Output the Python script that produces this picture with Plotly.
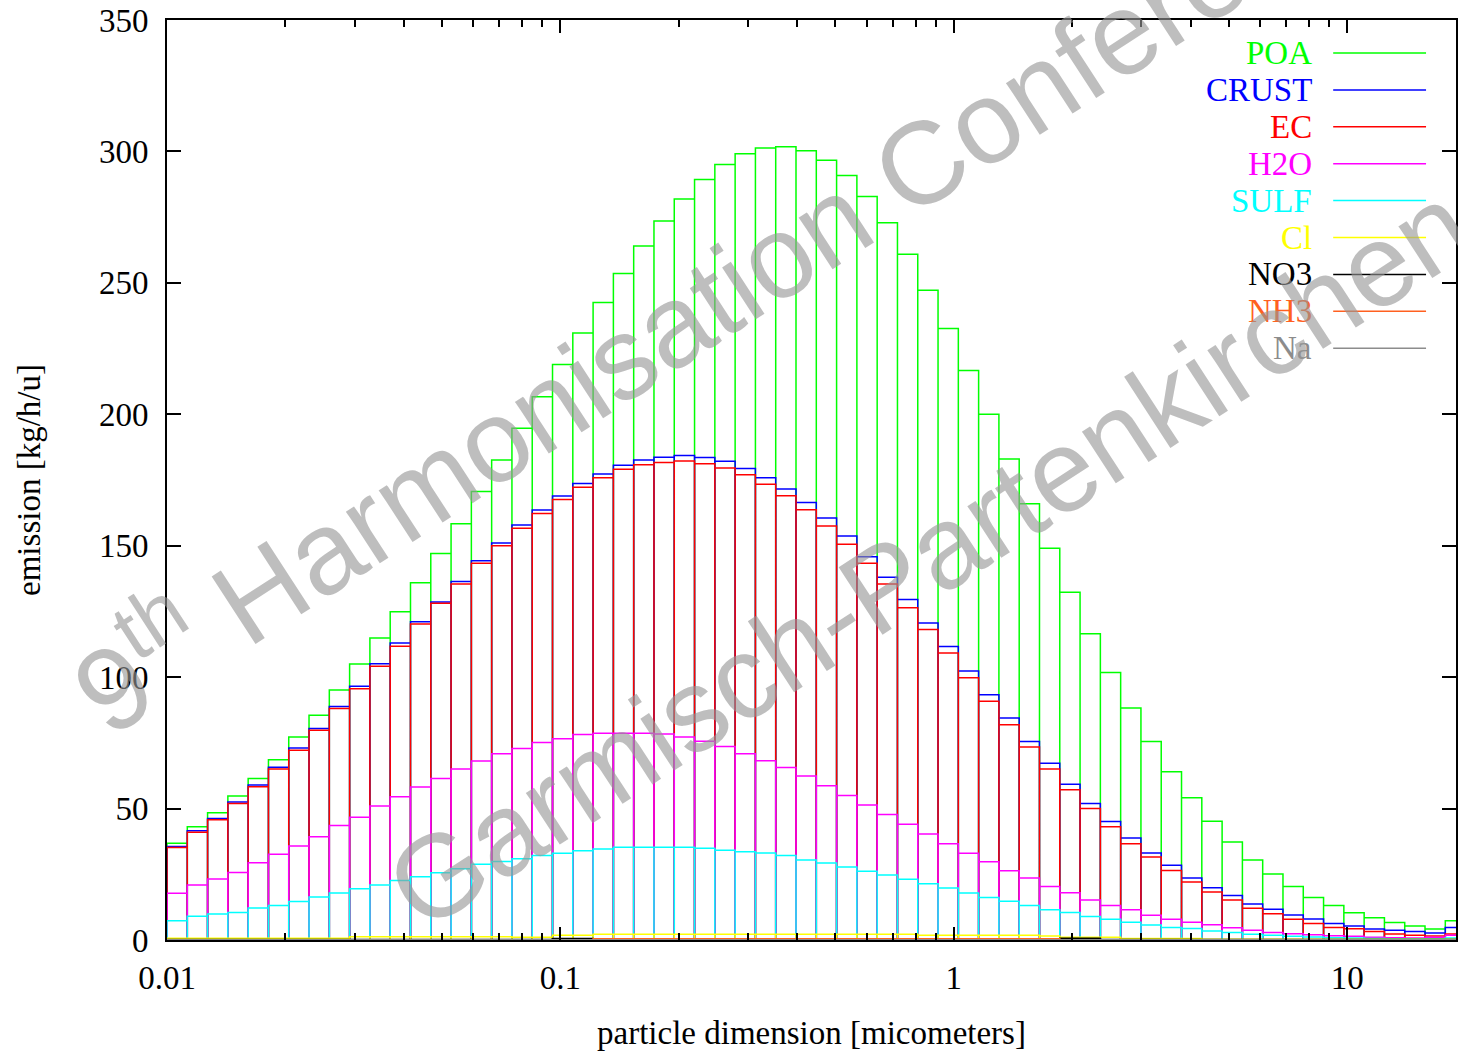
import numpy as np
import plotly.graph_objects as go

# ---- size-bin grid (64 logarithmic sections, 0.01 .. 20 micrometers) ----
BIN_MIN = 0.01
BIN_MAX = 20.0
N_BINS = 64

# ---- cumulative (stacked) emission levels per bin [kg/h/u] ----
level_POA = [36.8, 43.1, 48.4, 54.8, 61.4, 68.6, 77.2, 85.5, 95.1, 105.0,
             114.9, 124.9, 135.9, 147.0, 158.4, 170.6, 182.6, 194.7, 206.7, 218.9,
             230.9, 242.5, 253.6, 264.0, 273.5, 281.9, 289.3, 295.0, 299.1, 301.3,
             301.8, 300.3, 296.6, 290.8, 282.9, 272.9, 260.9, 247.2, 232.6, 216.7,
             200.0, 183.0, 166.0, 149.0, 132.3, 116.5, 101.8, 88.3, 75.5, 64.0,
             54.1, 45.2, 37.3, 30.4, 25.1, 20.4, 16.2, 13.1, 10.4, 8.5,
             6.7, 5.3, 4.2, 7.3]
level_CRUST = [35.6, 41.6, 46.2, 52.5, 59.0, 65.7, 73.0, 80.5, 88.8, 96.5,
               105.1, 113.0, 121.1, 128.6, 136.4, 144.3, 151.0, 157.9, 163.6, 168.9,
               173.7, 177.3, 180.6, 182.6, 183.7, 184.3, 183.6, 182.1, 179.4, 175.9,
               171.6, 166.4, 160.5, 153.7, 145.8, 138.0, 129.5, 120.6, 111.7, 102.3,
               93.3, 84.5, 75.5, 67.2, 59.3, 51.9, 45.1, 38.8, 33.1, 28.4,
               23.6, 19.9, 16.9, 13.7, 11.7, 9.5, 8.0, 6.3, 5.3, 4.2,
               3.7, 3.2, 2.7, 4.8]
level_EC = [35.2, 41.0, 45.7, 51.9, 58.3, 65.1, 72.2, 79.8, 88.1, 95.6,
            104.1, 111.8, 120.2, 128.1, 135.4, 143.3, 150.0, 156.6, 162.3, 167.6,
            172.2, 175.9, 179.1, 180.8, 181.7, 182.2, 181.2, 179.6, 177.0, 173.4,
            169.0, 163.7, 157.5, 150.6, 143.3, 135.4, 126.4, 118.1, 109.2, 99.8,
            90.8, 81.9, 73.4, 65.1, 57.2, 50.0, 43.1, 36.6, 31.6, 26.4,
            22.1, 18.3, 15.2, 12.1, 10.0, 7.9, 6.3, 4.8, 4.3, 3.2,
            2.3, 1.8, 1.5, 2.3]
level_H2O = [17.8, 20.9, 23.2, 25.7, 29.4, 32.6, 35.8, 39.3, 43.6, 46.7,
             51.0, 54.5, 58.2, 61.4, 65.1, 68.1, 70.9, 72.9, 75.1, 76.6,
             78.2, 78.7, 78.7, 78.7, 78.4, 77.2, 75.6, 73.6, 70.9, 68.2,
             65.6, 62.4, 58.7, 55.0, 51.4, 47.7, 44.0, 40.3, 36.6, 33.0,
             29.8, 26.3, 23.6, 20.4, 18.0, 15.2, 13.1, 11.5, 9.4, 7.9,
             6.8, 5.8, 4.7, 3.7, 2.9, 2.4, 2.0, 1.6, 1.4, 1.0,
             0.9, 0.8, 1.0, 1.8]
level_SULF = [7.3, 9.0, 9.9, 10.5, 12.2, 13.1, 14.6, 16.4, 17.9, 19.5,
              20.9, 22.6, 24.1, 25.6, 27.1, 28.8, 29.9, 30.9, 32.1, 33.0,
              34.0, 34.6, 35.3, 35.3, 35.3, 35.3, 34.9, 34.1, 33.6, 33.1,
              32.1, 30.4, 29.3, 27.8, 26.2, 24.7, 23.1, 21.4, 19.8, 17.9,
              16.2, 14.7, 13.1, 11.5, 10.5, 8.9, 7.9, 6.8, 5.7, 4.8,
              4.4, 3.4, 2.9, 2.2, 1.8, 1.4, 1.1, 0.9, 0.8, 0.6,
              0.5, 0.5, 0.5, 0.8]
level_Cl = [0.7, 0.7, 0.7, 0.7, 0.7, 0.7, 0.7, 0.7, 0.7, 1.2,
            1.2, 1.2, 1.2, 1.2, 1.2, 1.2, 1.2, 1.0, 1.0, 1.8,
            1.8, 2.2, 2.2, 2.2, 2.2, 2.2, 2.2, 2.2, 2.2, 2.2,
            2.2, 2.2, 2.2, 2.2, 2.2, 2.2, 2.2, 1.8, 1.8, 1.8,
            1.8, 1.8, 1.8, 1.5, 1.0, 1.0, 1.0, 0.6, 0.6, 0.6,
            0.6, 0.3, 0.3, 0.3, 0.3, 0.3, 0.3, 0.3, 0.3, 0.3,
            0.3, 0.3, 0.3, 0.3]
level_NO3 = [0.2, 0.2, 0.2, 0.2, 0.2, 0.2, 0.2, 0.2, 0.2, 0.2,
             0.2, 0.2, 0.2, 0.2, 0.2, 0.2, 0.2, 0.2, 0.2, 0.6,
             0.6, 0.3, 0.3, 0.3, 0.3, 0.3, 0.3, 0.3, 0.3, 0.3,
             0.3, 0.3, 0.3, 0.3, 0.3, 0.3, 0.3, 0.3, 0.3, 0.3,
             0.3, 0.3, 0.3, 0.3, 0.7, 0.7, 0.2, 0.2, 0.2, 0.2,
             0.2, 0.2, 0.2, 0.2, 0.2, 0.2, 0.2, 0.2, 0.2, 0.2,
             0.2, 0.2, 0.2, 0.2]
level_NH3 = [0.1] * 21 + [0.5] * 23 + [0.1] * 20
level_Na = [0.1] * 64

series_names = ["POA", "CRUST", "EC", "H2O", "SULF", "Cl", "NO3", "NH3", "Na"]
series_levels = [level_POA, level_CRUST, level_EC, level_H2O, level_SULF,
                 level_Cl, level_NO3, level_NH3, level_Na]
series_colors = ["#00ff00", "#0000ff", "#ff0000", "#ff00ff", "#00ffff",
                 "#ffff00", "#000000", "#ff6020", "#8c8c8c"]

x_ticks = [0.01, 0.1, 1, 10]
x_ticktext = ["0.01", "0.1", "1", "10"]

# ---------------------------------------------------------------------------
edges = np.geomspace(BIN_MIN, BIN_MAX, N_BINS + 1)


def box_outline(values):
    xs, ys = [], []
    for i, v in enumerate(values):
        xs += [edges[i], edges[i], edges[i + 1], edges[i + 1]]
        ys += [0, v, v, 0]
    return xs, ys


W, H = 1458, 1052
L, R, T, B = 167, 0, 20, 112
X_PX_PER_DEC = 394.0
x_hi = -2 + (W - L) / X_PX_PER_DEC

fig = go.Figure()
for name, lev, col in zip(series_names, series_levels, series_colors):
    xs, ys = box_outline(lev)
    fig.add_trace(go.Scatter(x=xs, y=ys, mode="lines", name=name,
                             line=dict(color=col, width=1.5),
                             showlegend=False, hoverinfo="skip"))

# minor ticks for the log axis
minor_vals = [m * 10.0 ** d for d in range(-2, 2) for m in range(2, 10)]

FONT = "Liberation Serif"
fig.update_layout(
    width=W, height=H,
    margin=dict(l=L, r=R, t=T, b=B, pad=0),
    paper_bgcolor="white", plot_bgcolor="white",
    font=dict(family=FONT, size=33, color="black"),
    xaxis=dict(type="log", range=[-2, x_hi], tickvals=x_ticks, ticktext=x_ticktext,
               ticks="inside", ticklen=13, tickwidth=2, tickcolor="black",
               showline=True, linewidth=2, linecolor="black", mirror="allticks",
               showgrid=False, zeroline=False, ticklabelstandoff=7,
               minor=dict(tickvals=minor_vals, ticks="inside", ticklen=7,
                          tickwidth=2, tickcolor="black", showgrid=False),
               tickfont=dict(family=FONT, size=33),
               title=dict(text="particle dimension [micometers]",
                          font=dict(family=FONT, size=33), standoff=26)),
    yaxis=dict(range=[0, 350], dtick=50, tick0=0,
               ticks="inside", ticklen=14, tickwidth=2, tickcolor="black",
               showline=True, linewidth=2, linecolor="black", mirror="ticks",
               showgrid=False, zeroline=False, ticklabelstandoff=10,
               tickfont=dict(family=FONT, size=33),
               title=dict(text="emission [kg/h/u]",
                          font=dict(family=FONT, size=33), standoff=48)),
    showlegend=False,
)

PW = W - L - R
PH = H - T - B


def px_x(px):
    return (px - L) / PW


def px_y(py):
    return (H - B - py) / PH


# manual gnuplot-style key: right aligned text followed by line sample
row_y0, row_dy = 53, 36.9
annotations = []
shapes = []
for i, (name, col) in enumerate(zip(series_names, series_colors)):
    yy = px_y(row_y0 + i * row_dy)
    annotations.append(dict(x=px_x(1316), y=yy, xref="paper", yref="paper",
                            text=name, showarrow=False, xanchor="right",
                            yanchor="middle",
                            font=dict(family=FONT, size=33, color=col)))
    shapes.append(dict(type="line", xref="paper", yref="paper",
                       x0=px_x(1335), x1=px_x(1428), y0=yy, y1=yy,
                       line=dict(color=col, width=1.5)))

# watermark
WM_COLOR = "rgba(150,150,150,0.62)"
annotations.append(dict(x=px_x(736), y=px_y(274), xref="paper", yref="paper",
                        text="9<sup>th</sup> Harmonisation Conference",
                        showarrow=False, textangle=-33,
                        xanchor="center", yanchor="middle",
                        font=dict(family="Liberation Sans", size=117, color=WM_COLOR)))
annotations.append(dict(x=px_x(930), y=px_y(556), xref="paper", yref="paper",
                        text="Garmisch-Partenkirchen",
                        showarrow=False, textangle=-33,
                        xanchor="center", yanchor="middle",
                        font=dict(family="Liberation Sans", size=117, color=WM_COLOR)))

fig.update_layout(annotations=annotations, shapes=shapes)
fig.write_html("out.html")
